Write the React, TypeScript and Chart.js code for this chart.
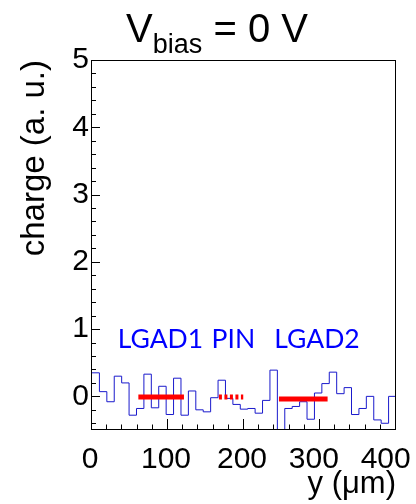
import React, { useEffect, useRef } from "react";
import { Chart, registerables } from "chart.js";

Chart.register(...registerables);

// ---- data ----
const xMin = 0;
const xMax = 400;
const yMin = -0.5;
const yMax = 5;
const xTickStep = 20;
const yTickStep = 0.2;

// charge per bin (41 bins across 0-400 um)
const charge = [
  0.35, 0.07, -0.08, 0.3, 0.2, -0.28, -0.18, 0.33, -0.17, 0.15,
  -0.27, 0.27, -0.28, 0.08, -0.2, -0.23, -0.02, 0.24, -0.03, -0.12,
  -0.19, -0.18, -0.25, -0.06, 0.39, -0.6, -0.18, -0.15, -0.08, -0.34,
  0.05, 0.19, 0.36, 0.04, 0.13, -0.27, -0.18, 0.0, -0.35, -0.4, 0.0,
];

const regionNames = ["LGAD1", "PIN", "LGAD2"];
const regionStart = [61, 167, 246];
const regionEnd = [121, 199, 310];
const regionMean = [-0.01, -0.01, -0.04];
const regionDashed = [false, true, false];
const labelX = [90, 186, 296];
const labelY = [0.72, 0.72, 0.72];

const xTickLabels: Record<number, string> = { 0: "0", 100: "100", 200: "200", 300: "300 ", 400: "400  " };

const titleMain = "V";
const titleSub = "bias";
const titleRest = " = 0 V";
const yTitle = "charge (a. u.)";
const xTitle = "y (\u03bcm)";

const FONT = "'Liberation Sans', Arial, Helvetica, sans-serif";

const overlayPlugin = {
  id: "rootOverlay",
  afterDraw(chart: any) {
    const { ctx, chartArea: a, scales } = chart;
    const x = scales.x;
    const y = scales.y;
    ctx.save();
    // ticks (inside frame)
    ctx.strokeStyle = "#000";
    ctx.lineWidth = 1;
    ctx.beginPath();
    x.ticks.forEach((t: any) => {
      const px = Math.round(x.getPixelForValue(t.value)) - 0.5;
      const major = Math.abs(t.value / 100 - Math.round(t.value / 100)) < 1e-6;
      const len = major ? 11 : 5.5;
      ctx.moveTo(px, a.bottom);
      ctx.lineTo(px, a.bottom - len);
    });
    y.ticks.forEach((t: any) => {
      const py = Math.round(y.getPixelForValue(t.value)) + 0.5;
      const major = Math.abs(t.value - Math.round(t.value)) < 1e-6;
      const len = major ? 8 : 4;
      ctx.moveTo(a.left, py);
      ctx.lineTo(a.left + len, py);
    });
    ctx.stroke();
    // frame
    ctx.strokeRect(
      Math.round(a.left) - 0.5,
      Math.round(a.top) + 0.5,
      Math.round(a.right - a.left),
      Math.round(a.bottom - a.top) - 1
    );
    // region labels
    ctx.fillStyle = "#0000ff";
    ctx.font = "26.5px Lato, 'Open Sans', sans-serif";
    ctx.textAlign = "center";
    ctx.textBaseline = "alphabetic";
    regionNames.forEach((n, i) => {
      ctx.fillText(n, x.getPixelForValue(labelX[i]), y.getPixelForValue(labelY[i]));
    });
    // title
    ctx.fillStyle = "#000";
    ctx.textAlign = "left";
    const big = "40px " + FONT;
    const small = "27px " + FONT;
    ctx.font = big;
    const w1 = ctx.measureText(titleMain).width;
    ctx.font = small;
    const w2 = ctx.measureText(titleSub).width;
    ctx.font = big;
    const w3 = ctx.measureText(titleRest).width;
    const total = w1 + w2 + w3;
    let cx = 217 - total / 2;
    ctx.fillText(titleMain, cx, 42);
    cx += w1;
    ctx.font = small;
    ctx.fillText(titleSub, cx, 53);
    cx += w2;
    ctx.font = big;
    ctx.fillText(titleRest, cx, 42);
    ctx.restore();
  },
};

export default function App() {
  const ref = useRef<HTMLCanvasElement | null>(null);
  useEffect(() => {
    if (!ref.current) return;
    const binWidth = (xMax - xMin) / charge.length;
    const histPoints = charge.map((v, i) => ({ x: xMin + i * binWidth, y: v }));
    histPoints.push({ x: xMax, y: charge[charge.length - 1] });

    const regionSets = regionNames.map((n, i) => ({
      label: n,
      data: [
        { x: regionStart[i], y: regionMean[i] },
        { x: regionEnd[i], y: regionMean[i] },
      ],
      borderColor: "#ff0000",
      borderWidth: 5,
      borderDash: regionDashed[i] ? [3, 2.5] : [],
      borderCapStyle: "butt",
      pointRadius: 0,
      fill: false,
      order: 0,
    }));

    const chart = new Chart(ref.current, {
      type: "line",
      data: {
        datasets: [
          ...regionSets,
          {
            label: "charge",
            data: histPoints,
            borderColor: "#1a1acc",
            borderWidth: 1,
            stepped: "before",
            pointRadius: 0,
            fill: false,
            order: 1,
          },
        ] as any,
      },
      options: {
        animation: false,
        responsive: false,
        devicePixelRatio: 1,
        layout: { padding: { top: 60, right: 20, left: 0, bottom: 0 } },
        plugins: {
          legend: { display: false },
          title: { display: false },
          tooltip: { enabled: false },
        },
        scales: {
          x: {
            type: "linear",
            min: xMin,
            max: xMax,
            grid: { display: false, drawTicks: false },
            border: { display: false },
            ticks: {
              stepSize: xTickStep,
              autoSkip: false,
              maxRotation: 0,
              padding: 12,
              labelOffset: -2,
              color: "#000",
              font: { family: FONT, size: 30 },
              callback: (v: any) => {
                const r = Math.round(v);
                return Math.abs(v - r) < 1e-6 && xTickLabels[r] !== undefined ? xTickLabels[r] : "";
              },
            },
            title: {
              display: true,
              text: xTitle,
              align: "end",
              color: "#000",
              font: { family: FONT, size: 31 },
              padding: { top: 0, bottom: 1 },
            },
            afterFit: (s: any) => {
              s.height = 74;
              s.paddingLeft = 0;
              s.paddingRight = 0;
            },
          },
          y: {
            type: "linear",
            min: yMin,
            max: yMax,
            grid: { display: false, drawTicks: false },
            border: { display: false },
            ticks: {
              stepSize: yTickStep,
              includeBounds: false,
              autoSkip: false,
              padding: 3,
              color: "#000",
              font: { family: FONT, size: 30 },
              callback: (v: any) => (Math.abs(v - Math.round(v)) < 1e-6 ? String(Math.round(v)) : ""),
            },
            title: {
              display: true,
              text: yTitle,
              align: "end",
              color: "#000",
              font: { family: FONT, size: 33 },
              padding: { top: 15, bottom: 0 },
            },
            afterFit: (s: any) => {
              s.width = 92;
              s.paddingTop = 0;
              s.paddingBottom = 0;
            },
          },
        },
      } as any,
      plugins: [overlayPlugin],
    });
    return () => chart.destroy();
  }, []);

  return (
    <div style={{ position: "absolute", left: 0, top: 0, width: 416, height: 504, background: "#fff" }}>
      <canvas ref={ref} width={416} height={504} style={{ width: 416, height: 504 }} />
    </div>
  );
}
